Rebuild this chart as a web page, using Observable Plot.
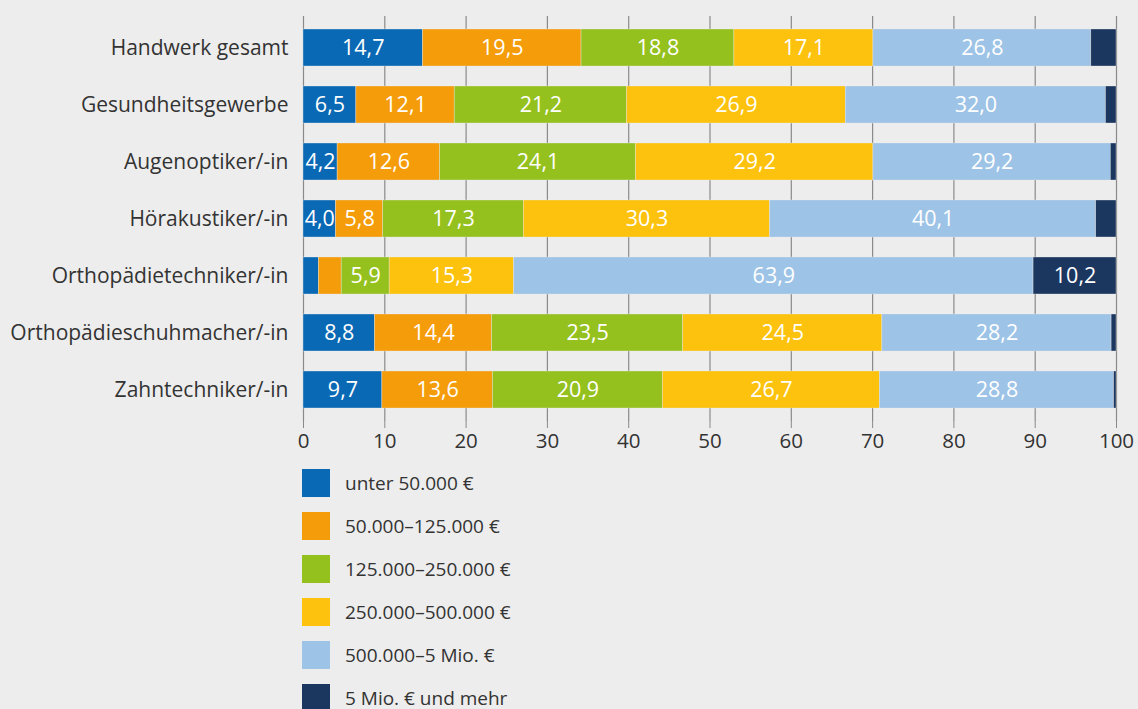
<!DOCTYPE html>
<html>
<head>
<meta charset="utf-8">
<script src="https://cdn.jsdelivr.net/npm/d3@7"></script>
<script src="https://cdn.jsdelivr.net/npm/@observablehq/plot@0.6"></script>
<style>
  html, body { margin: 0; padding: 0; background: #ededed; }
  body { width: 1138px; height: 709px; overflow: hidden; font-family: "Open Sans", "Noto Sans", sans-serif; }
  #legend { margin-left: 302px; padding-top: 1.5px; }
  .item { display: flex; align-items: center; height: 43px; }
  .item .sw { width: 28px; height: 28px; margin-right: 15px; flex: none; }
  .item span { font-size: 19px; color: #333; }
  #chart svg { display: block; }
  #chart svg text { font-size: 20px; }
  #chart g[aria-label="y-axis tick label"] text { font-size: 21px !important; }
  #chart g[aria-label="x-axis tick label"] text { font-size: 20.5px !important; }
  #chart g[aria-label="text"] text { font-size: 21.5px !important; }
</style>
</head>
<body>
<div id="chart"></div>
<div id="legend"></div>
<script>
const categories = ["Handwerk gesamt", "Gesundheitsgewerbe", "Augenoptiker/-in", "Hörakustiker/-in", "Orthopädietechniker/-in", "Orthopädieschuhmacher/-in", "Zahntechniker/-in"];
const seriesNames = ["unter 50.000 €", "50.000–125.000 €", "125.000–250.000 €", "250.000–500.000 €", "500.000–5 Mio. €", "5 Mio. € und mehr"];
const seriesColors = ["#0a69b4", "#f59c0a", "#95c11f", "#fdc20d", "#9dc3e6", "#1b365f"];
const s1 = [14.7, 6.5, 4.2, 4.0, 1.9, 8.8, 9.7];
const s2 = [19.5, 12.1, 12.6, 5.8, 2.8, 14.4, 13.6];
const s3 = [18.8, 21.2, 24.1, 17.3, 5.9, 23.5, 20.9];
const s4 = [17.1, 26.9, 29.2, 30.3, 15.3, 24.5, 26.7];
const s5 = [26.8, 32.0, 29.2, 40.1, 63.9, 28.2, 28.8];
const s6 = [3.1, 1.3, 0.7, 2.5, 10.2, 0.6, 0.3];
const xTicks = [0, 10, 20, 30, 40, 50, 60, 70, 80, 90, 100];

const seriesValues = [s1, s2, s3, s4, s5, s6];
const data = [];
seriesNames.forEach((s, i) => {
  categories.forEach((c, j) => {
    data.push({cat: c, series: s, value: seriesValues[i][j]});
  });
});
const fmt = v => v.toFixed(1).replace(".", ",");

const chart = Plot.plot({
  width: 1138,
  height: 460,
  marginLeft: 303,
  marginRight: 22,
  marginTop: 16,
  marginBottom: 39,
  style: {background: "#ededed", fontFamily: "'Open Sans', 'Noto Sans', sans-serif", fontSize: "20px", color: "#333"},
  x: {domain: [0, 100], ticks: xTicks, label: null},
  y: {domain: categories, label: null, paddingInner: 0.35, paddingOuter: 0.18},
  color: {domain: seriesNames, range: seriesColors},
  marks: [
    Plot.ruleX(xTicks, {stroke: "#8a8a8a", strokeWidth: 1.2}),
    Plot.barX(data, Plot.stackX({x: "value", y: "cat", fill: "series", z: "series", stroke: "#ededed", strokeWidth: 0.6, strokeOpacity: 0.6})),
    Plot.text(data, Plot.stackX({x: "value", y: "cat", z: "series", text: d => d.value >= 3.5 ? fmt(d.value) : "", fill: "white", fontSize: 21.5})),
    Plot.axisX({ticks: xTicks, tickSize: 7, stroke: "#8a8a8a", tickPadding: 5, fontSize: 20.5, fill: "#333", label: null}),
    Plot.axisY({tickSize: 0, tickPadding: 15, fontSize: 21, fill: "#333", label: null})
  ]
});
document.getElementById("chart").appendChild(chart);

const legend = document.getElementById("legend");
seriesNames.forEach((s, i) => {
  const item = document.createElement("div");
  item.className = "item";
  const sw = document.createElement("div");
  sw.className = "sw";
  sw.style.background = seriesColors[i];
  const t = document.createElement("span");
  t.textContent = s;
  item.appendChild(sw);
  item.appendChild(t);
  legend.appendChild(item);
});
</script>
</body>
</html>
